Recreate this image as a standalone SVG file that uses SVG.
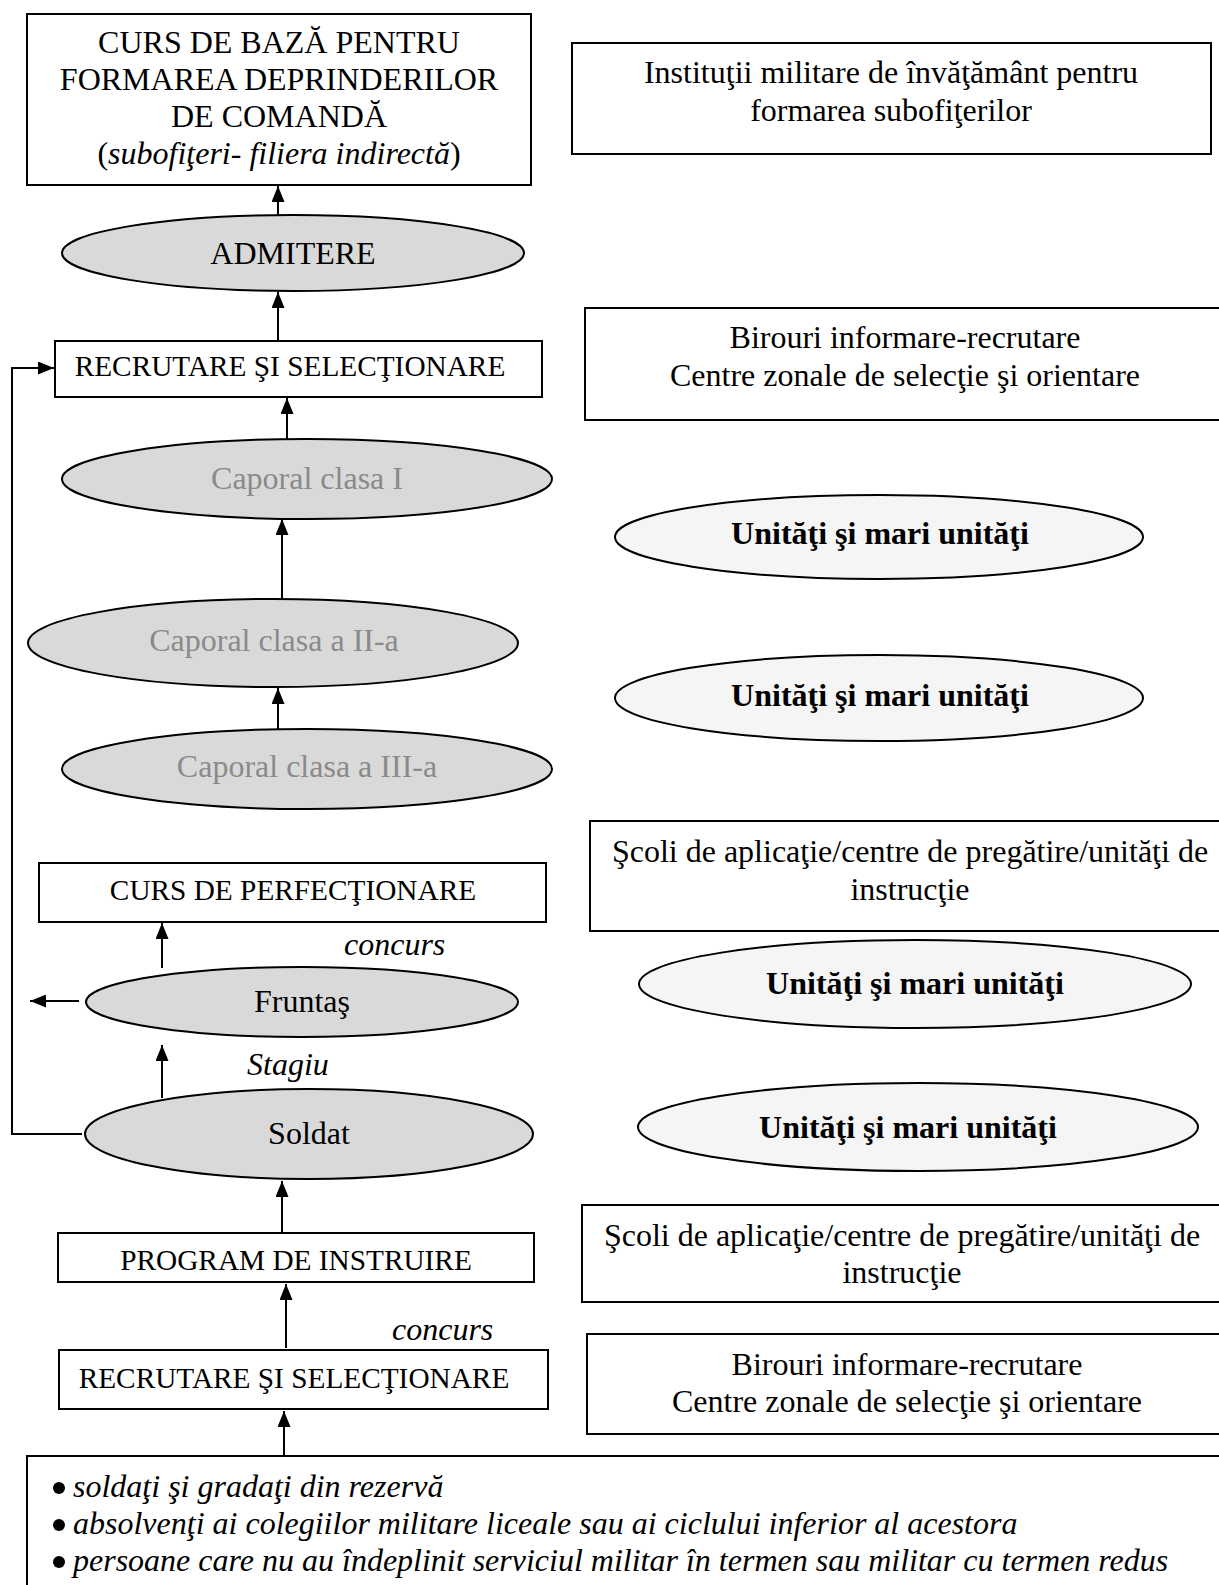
<svg xmlns="http://www.w3.org/2000/svg" width="1219" height="1585" viewBox="0 0 1219 1585">
<defs>
<marker id="arr" viewBox="0 0 16 13" refX="16" refY="6.5" markerWidth="16" markerHeight="13" markerUnits="userSpaceOnUse" orient="auto">
<path d="M0,0 L16,6.5 L0,13 z" fill="#000"/>
</marker>
<style>
.box{fill:#fff;stroke:#000;stroke-width:2}
.ell{fill:#d9d9d9;stroke:#000;stroke-width:2}
.ellw{fill:#f5f5f5;stroke:#000;stroke-width:2}
.t{font-family:"Liberation Serif","Times New Roman",serif;font-size:32px;fill:#000;text-anchor:middle}
.s{font-family:"Liberation Serif","Times New Roman",serif;font-size:29.3px;fill:#000;text-anchor:middle}
.g{fill:#8a8a8a}
.b{font-weight:bold}
.i{font-style:italic}
.l{text-anchor:start}
.c{fill:none;stroke:#000;stroke-width:2}
</style>
</defs>
<rect width="1219" height="1585" fill="#fff"/>

<g id="connectors">
<line class="c" x1="278" y1="215" x2="278" y2="186" marker-end="url(#arr)"/>
<line class="c" x1="278" y1="341" x2="278" y2="292" marker-end="url(#arr)"/>
<line class="c" x1="287" y1="439" x2="287" y2="398" marker-end="url(#arr)"/>
<line class="c" x1="282" y1="600" x2="282" y2="519" marker-end="url(#arr)"/>
<line class="c" x1="278" y1="729" x2="278" y2="688" marker-end="url(#arr)"/>
<line class="c" x1="162" y1="968" x2="162" y2="923" marker-end="url(#arr)"/>
<line class="c" x1="79" y1="1001" x2="30" y2="1001" marker-end="url(#arr)"/>
<line class="c" x1="162" y1="1098" x2="162" y2="1045" marker-end="url(#arr)"/>
<line class="c" x1="282" y1="1232" x2="282" y2="1181" marker-end="url(#arr)"/>
<line class="c" x1="286" y1="1348" x2="286" y2="1284" marker-end="url(#arr)"/>
<line class="c" x1="284" y1="1455" x2="284" y2="1411" marker-end="url(#arr)"/>
<polyline class="c" points="82,1134 12,1134 12,368 54,368" marker-end="url(#arr)"/>
</g>

<g id="curs-baza">
<rect class="box" x="27" y="14" width="504" height="171"/>
<text class="t" x="279" y="53">CURS DE BAZĂ PENTRU</text>
<text class="t" x="279" y="90">FORMAREA DEPRINDERILOR</text>
<text class="t" x="279" y="127">DE COMANDĂ</text>
<text class="t" x="279" y="164">(<tspan class="i">subofiţeri- filiera indirectă</tspan>)</text>
</g>

<g id="institutii">
<rect class="box" x="572" y="43" width="639" height="111"/>
<text class="t" x="891" y="83">Instituţii militare de învăţământ pentru</text>
<text class="t" x="891" y="121">formarea subofiţerilor</text>
</g>

<g id="admitere">
<ellipse class="ell" cx="293" cy="253" rx="231" ry="38"/>
<text class="t" x="293" y="264">ADMITERE</text>
</g>

<g id="recrutare1">
<rect class="box" x="55" y="341" width="487" height="56"/>
<text class="s" x="290" y="376">RECRUTARE ŞI SELECŢIONARE</text>
</g>

<g id="birouri1">
<rect class="box" x="585" y="308" width="640" height="112"/>
<text class="t" x="905" y="348">Birouri informare-recrutare</text>
<text class="t" x="905" y="386">Centre zonale de selecţie şi orientare</text>
</g>

<g id="caporal1">
<ellipse class="ell" cx="307" cy="479" rx="245" ry="40"/>
<text class="t g" x="307" y="489">Caporal clasa I</text>
</g>

<g id="unitati1">
<ellipse class="ellw" cx="879" cy="537" rx="264" ry="42"/>
<text class="t b" x="880" y="544">Unităţi şi mari unităţi</text>
</g>

<g id="caporal2">
<ellipse class="ell" cx="273" cy="643" rx="245" ry="44"/>
<text class="t g" x="274" y="651">Caporal clasa a II-a</text>
</g>

<g id="unitati2">
<ellipse class="ellw" cx="879" cy="698" rx="264" ry="43"/>
<text class="t b" x="880" y="706">Unităţi şi mari unităţi</text>
</g>

<g id="caporal3">
<ellipse class="ell" cx="307" cy="769" rx="245" ry="40"/>
<text class="t g" x="307" y="777">Caporal clasa a III-a</text>
</g>

<g id="curs-perfectionare">
<rect class="box" x="39" y="863" width="507" height="59"/>
<text class="s" x="293" y="900">CURS DE PERFECŢIONARE</text>
</g>

<g id="scoli1">
<rect class="box" x="590" y="821" width="640" height="110"/>
<text class="t" x="910" y="862">Şcoli de aplicaţie/centre de pregătire/unităţi de</text>
<text class="t" x="910" y="900">instrucţie</text>
</g>

<text class="t i l" x="344" y="955">concurs</text>

<g id="fruntas">
<ellipse class="ell" cx="302" cy="1002" rx="216" ry="35"/>
<text class="t" x="302" y="1012">Fruntaş</text>
</g>

<g id="unitati3">
<ellipse class="ellw" cx="915" cy="984" rx="276" ry="44"/>
<text class="t b" x="915" y="994">Unităţi şi mari unităţi</text>
</g>

<text class="t i l" x="247" y="1075">Stagiu</text>

<g id="soldat">
<ellipse class="ell" cx="309" cy="1134" rx="224" ry="45"/>
<text class="t" x="309" y="1144">Soldat</text>
</g>

<g id="unitati4">
<ellipse class="ellw" cx="918" cy="1127" rx="280" ry="44"/>
<text class="t b" x="908" y="1138">Unităţi şi mari unităţi</text>
</g>

<g id="program">
<rect class="box" x="58" y="1233" width="476" height="49"/>
<text class="s" x="296" y="1270">PROGRAM DE INSTRUIRE</text>
</g>

<g id="scoli2">
<rect class="box" x="582" y="1205" width="645" height="97"/>
<text class="t" x="902" y="1246">Şcoli de aplicaţie/centre de pregătire/unităţi de</text>
<text class="t" x="902" y="1283">instrucţie</text>
</g>

<text class="t i l" x="392" y="1340">concurs</text>

<g id="recrutare2">
<rect class="box" x="59" y="1350" width="489" height="59"/>
<text class="s" x="294" y="1388">RECRUTARE ŞI SELECŢIONARE</text>
</g>

<g id="birouri2">
<rect class="box" x="587" y="1334" width="640" height="100"/>
<text class="t" x="907" y="1375">Birouri informare-recrutare</text>
<text class="t" x="907" y="1412">Centre zonale de selecţie şi orientare</text>
</g>

<g id="surse">
<rect class="box" x="27" y="1456" width="1210" height="140"/>
<circle cx="59" cy="1488" r="6" fill="#000"/>
<circle cx="59" cy="1525" r="6" fill="#000"/>
<circle cx="59" cy="1562" r="6" fill="#000"/>
<text class="t i l" x="73" y="1497">soldaţi şi gradaţi din rezervă</text>
<text class="t i l" x="73" y="1534">absolvenţi ai colegiilor militare liceale sau ai ciclului inferior al acestora</text>
<text class="t i l" x="73" y="1571">persoane care nu au îndeplinit serviciul militar în termen sau militar cu termen redus</text>
</g>
</svg>
